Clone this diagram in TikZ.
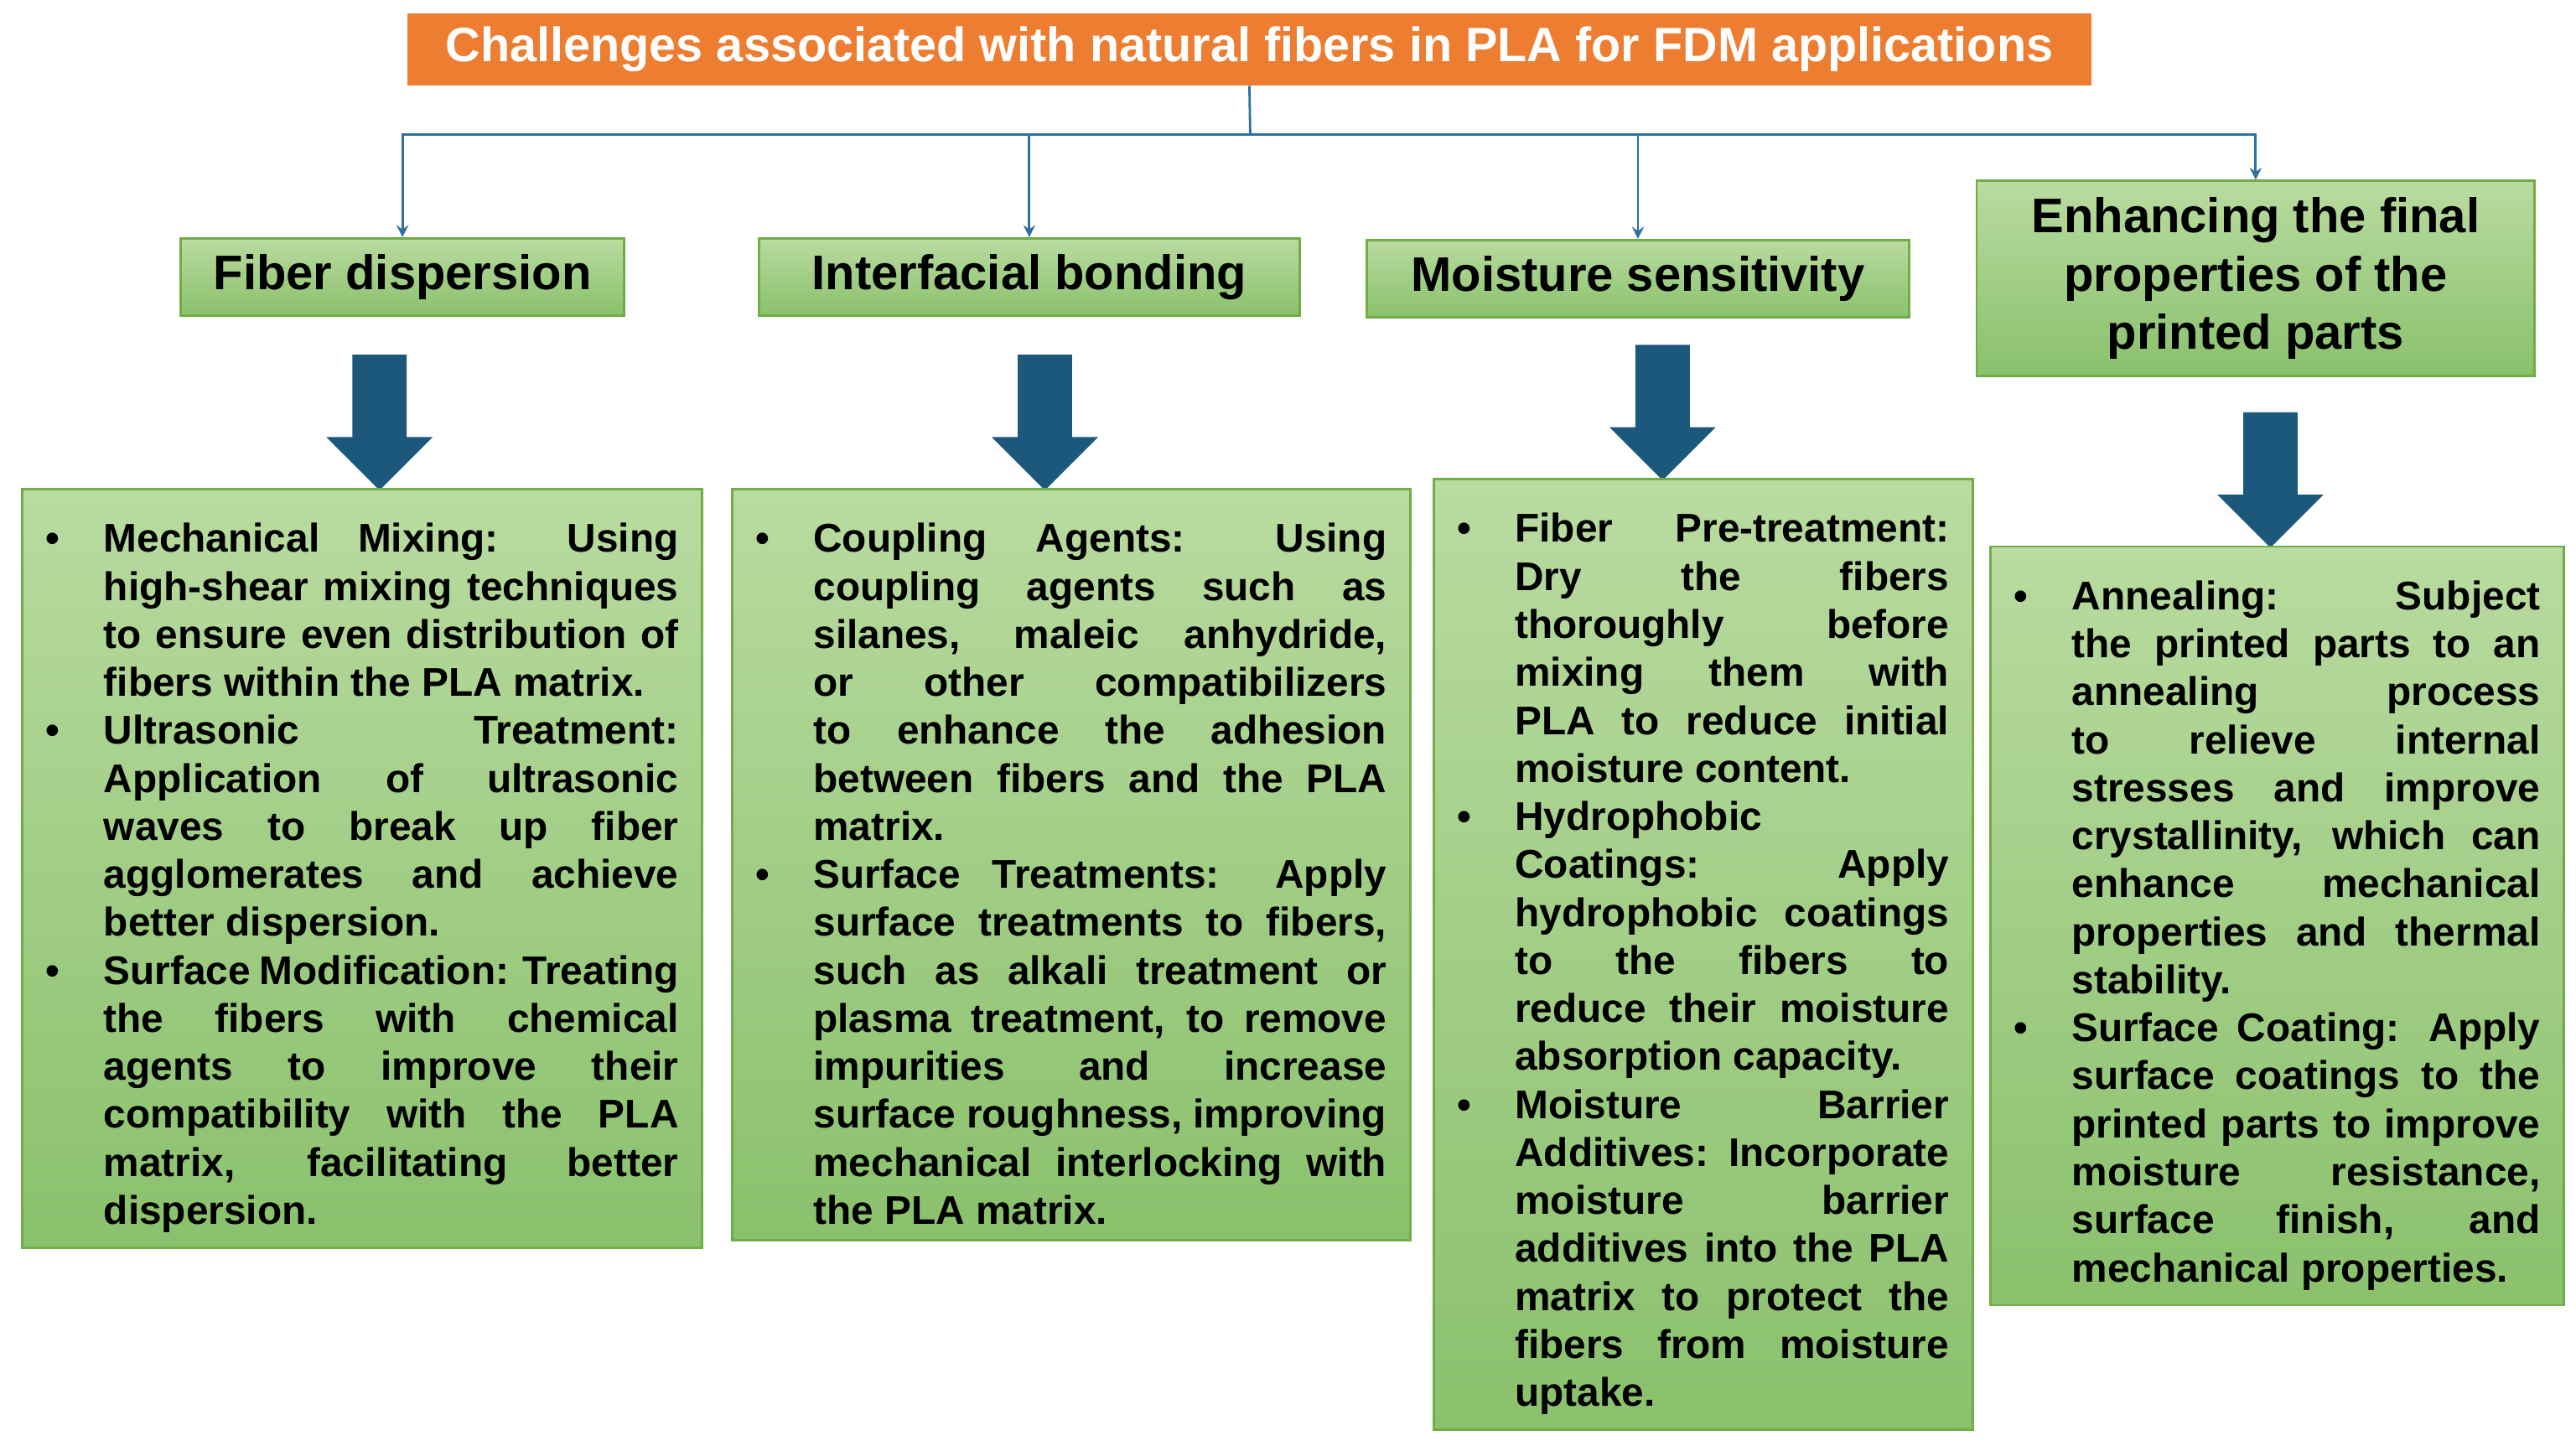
\documentclass[tikz,border=0pt]{standalone}
\usepackage{fontspec}
\setmainfont{Liberation Sans}
\usepackage{enumitem}
\usepackage{tikz}
\usetikzlibrary{shapes,arrows,arrows.meta,positioning,calc}
\definecolor{titleorange}{RGB}{237, 125, 49}
\definecolor{linkblue}{RGB}{46, 112, 160}
\definecolor{darkblue}{RGB}{28, 88, 124}
\definecolor{greenlight}{RGB}{185, 219, 160}
\definecolor{greendark}{RGB}{138, 193, 108}
\definecolor{greenedge}{RGB}{112, 173, 71}
\newcommand{\nohyph}{\hyphenpenalty=10000 \exhyphenpenalty=10000 \emergencystretch=3em\relax}

\begin{document}
\begin{tikzpicture}[
    x=0.0196cm, y=-0.0196cm,
    title/.style={fill=titleorange, text=white, minimum width=20.09cm, minimum height=0.86cm, font=\fontsize{16.4}{19}\selectfont\bfseries},
    head/.style={draw=greenedge, thick, top color=greenlight, bottom color=greendark, minimum height=0.92cm, align=center, font=\fontsize{16.5}{19.8}\selectfont\bfseries},
    content/.style={draw=greenedge, thick, top color=greenlight, bottom color=greendark, anchor=north west, inner xsep=0.28cm, inner ysep=0.18cm, align=justify, font=\fontsize{13.6}{16.3}\selectfont\bfseries},
    bigarrow/.style={single arrow, fill=darkblue, draw=darkblue, shape border rotate=270, minimum height=1.6cm, single arrow head extend=0.3cm, single arrow head indent=0pt, inner sep=0.31cm},
    arrow/.style={->, >=stealth, thick, color=linkblue},
    line/.style={thick, color=linkblue}
]
\useasboundingbox (0,0) rectangle (1568,880);
\setlist[itemize]{label=\textbullet, leftmargin=0.69cm, labelwidth=0.3cm, labelsep=0.39cm, align=left, itemsep=0pt, topsep=0pt, parsep=0pt, partopsep=0pt}

% Title
\node[title] (title) at (760.5,30) {Challenges associated with natural fibers in PLA for FDM applications};

% Headings
\node[head, minimum width=5.29cm] (fiber) at (245,168.5) {Fiber dispersion};
\node[head, minimum width=6.45cm] (bonding) at (626.5,168.5) {Interfacial bonding};
\node[head, minimum width=6.47cm] (moisture) at (997,169.5) {Moisture sensitivity};
\node[head, minimum width=6.66cm, minimum height=2.33cm] (enhance) at (1373,169.5) {Enhancing the final\\properties of the\\printed parts};

% Connectors
\coordinate (split) at (761,82);
\draw[line] (title.south) -- (split);
\draw[arrow] (split) -| (fiber.north);
\draw[arrow] (split) -| (bonding.north);
\draw[arrow] (split) -| (moisture.north);
\draw[arrow] (split) -| (enhance.north);

% Block arrows
\node[bigarrow] (down1) at (231,249) {};
\node[bigarrow] (down2) at (636,249) {};
\node[bigarrow] (down3) at (1012,243) {};
\node[bigarrow] (down4) at (1382,284) {};

% Solutions
\node[content, text width=7.55cm, minimum height=8.96cm] (fibertext) at (13,297) {\nohyph
\begin{itemize}
\item Mechanical Mixing: Using high-shear mixing techniques to ensure even distribution of fibers within the PLA matrix.
\item Ultrasonic Treatment: Application of ultrasonic waves to break up fiber agglomerates and achieve better dispersion.
\item Surface Modification: Treating the fibers with chemical agents to improve their compatibility with the PLA matrix, facilitating better dispersion.
\end{itemize}};

\node[content, text width=7.53cm, minimum height=8.96cm] (bondingtext) at (445,297) {\nohyph
\begin{itemize}
\item Coupling Agents: Using coupling agents such as silanes, maleic anhydride, or other compatibilizers to enhance the adhesion between fibers and the PLA matrix.
\item Surface Treatments: Apply surface treatments to fibers, such as alkali treatment or plasma treatment, to remove impurities and increase surface roughness, improving mechanical interlocking with the PLA matrix.
\end{itemize}};

\node[content, text width=5.87cm, minimum height=11.29cm] (moisturetext) at (872,291) {\nohyph
\begin{itemize}
\item Fiber Pre-treatment: Dry the fibers thoroughly before mixing them with PLA to reduce initial moisture content.
\item Hydrophobic Coatings: Apply hydrophobic coatings to the fibers to reduce their moisture absorption capacity.
\item Moisture Barrier Additives: Incorporate moisture barrier additives into the PLA matrix to protect the fibers from moisture uptake.
\end{itemize}};

\node[content, text width=6.28cm, minimum height=8.94cm] (enhancetext) at (1211,332) {\nohyph
\begin{itemize}
\item Annealing: Subject the printed parts to an annealing process to relieve internal stresses and improve crystallinity, which can enhance mechanical properties and thermal stability.
\item Surface Coating: Apply surface coatings to the printed parts to improve moisture resistance, surface finish, and mechanical properties.
\end{itemize}};

\end{tikzpicture}
\end{document}
